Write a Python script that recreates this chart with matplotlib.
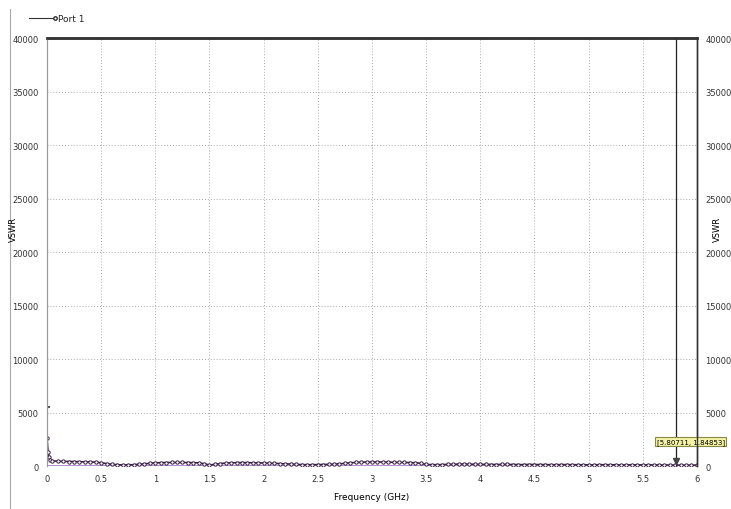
import matplotlib.pyplot as plt

# VSWR vs frequency
freq = [0.0, 0.01, 0.02, 0.03, 0.05, 0.1, 0.15, 0.2, 0.25, 0.3, 0.35, 0.4, 0.45,
        0.5, 0.55, 0.6, 0.65, 0.7, 0.75, 0.8, 0.85, 0.9, 0.95, 1.0, 1.05, 1.1,
        1.15, 1.2, 1.25, 1.3, 1.35, 1.4, 1.45, 1.5, 1.55, 1.6, 1.65, 1.7, 1.75,
        1.8, 1.85, 1.9, 1.95, 2.0, 2.05, 2.1, 2.15, 2.2, 2.25, 2.3, 2.35, 2.4,
        2.45, 2.5, 2.55, 2.6, 2.65, 2.7, 2.75, 2.8, 2.85, 2.9, 2.95, 3.0, 3.05,
        3.1, 3.15, 3.2, 3.25, 3.3, 3.35, 3.4, 3.45, 3.5, 3.55, 3.6, 3.65, 3.7,
        3.75, 3.8, 3.85, 3.9, 3.95, 4.0, 4.05, 4.1, 4.15, 4.2, 4.25, 4.3, 4.35,
        4.4, 4.45, 4.5, 4.55, 4.6, 4.65, 4.7, 4.75, 4.8, 4.85, 4.9, 4.95, 5.0,
        5.05, 5.1, 5.15, 5.2, 5.25, 5.3, 5.35, 5.4, 5.45, 5.5, 5.55, 5.6, 5.65,
        5.7, 5.75, 5.8, 5.85, 5.9, 5.95, 6.0]
vswr = [2600, 1300, 800, 600, 480, 440, 430, 420, 410, 400, 390, 380, 360,
        300, 220, 150, 120, 100, 110, 120, 160, 200, 250, 300, 310, 320,
        330, 330, 330, 320, 310, 300, 200, 100, 150, 220, 270, 300, 310,
        320, 310, 300, 290, 280, 260, 250, 220, 200, 180, 150, 130, 120,
        120, 130, 140, 150, 170, 200, 250, 300, 330, 350, 370, 380, 380,
        370, 360, 350, 340, 330, 320, 300, 250, 150, 120, 120, 130, 150,
        160, 180, 180, 170, 160, 150, 150, 140, 140, 150, 150, 140, 130,
        130, 140, 140, 130, 130, 120, 120, 130, 130, 120, 120, 110, 110,
        110, 120, 120, 110, 110, 100, 100, 110, 110, 100, 100, 100, 100,
        90, 90, 80, 80, 80, 80, 80]
edge_marks = [40000, 5500]
marker_freq = 5.80711
marker_vswr = 1.84853

xticks = [0, 0.5, 1, 1.5, 2, 2.5, 3, 3.5, 4, 4.5, 5, 5.5, 6]
xlabels = ["0", "0.5", "1", "1.5", "2", "2.5", "3", "3.5", "4", "4.5", "5", "5.5", "6"]
yticks = [0, 5000, 10000, 15000, 20000, 25000, 30000, 35000, 40000]

fig = plt.figure(figsize=(7.31, 5.10), dpi=100)
ax = fig.add_axes([0.0643, 0.0843, 0.889, 0.8392])

ax.plot(freq, [0] * len(freq), color="#b48ad0", lw=1.4)
ax.plot(freq, vswr, color="#3a1f45", lw=1.2, marker="o", ms=2.4,
        mfc="white", mec="#3a1f45", mew=0.7)
ax.plot([0] * len(edge_marks), edge_marks, ls="none", marker="_", ms=4,
        color="#555555", mew=1.5)

ax.axvline(marker_freq, color="#222222", lw=0.9)
ax.plot([marker_freq], [500], marker="v", ms=4, color="#444444")
ax.annotate("[%.5f, %.5f]" % (marker_freq, marker_vswr),
            xy=(marker_freq, 2300), fontsize=5, ha="left", va="center",
            bbox=dict(boxstyle="square,pad=0.2", fc="#f3f2a6", ec="#888844", lw=0.8),
            annotation_clip=False, xytext=(-14, 0), textcoords="offset points")

ax.set_xlim(0, 6)
ax.set_ylim(0, 40000)
ax.set_xticks(xticks)
ax.set_xticklabels(xlabels)
ax.set_yticks(yticks)
ax.tick_params(labelsize=6, length=0, pad=6, colors="#333333")
ax.grid(True, ls=(0, (1, 2)), color="#aaaaaa", lw=0.7)

ax2 = ax.twinx()
ax2.set_ylim(0, 40000)
ax2.set_yticks(yticks)
ax2.tick_params(labelsize=6, length=0, pad=6, colors="#333333")

for a in (ax, ax2):
    a.spines["left"].set_color("#999999")
    a.spines["bottom"].set_visible(False)
    a.spines["top"].set_color("#333333")
    a.spines["top"].set_linewidth(1.8)
    a.spines["right"].set_color("#333333")
    a.spines["right"].set_linewidth(1.0)

ax.set_xlabel("Frequency (GHz)", fontsize=6.5, labelpad=6)
fig.text(0.019, 0.55, "VSWR", fontsize=6, rotation=90, ha="center", va="center")
fig.text(0.982, 0.55, "VSWR", fontsize=6, rotation=90, ha="center", va="center")

# legend entry at the top left
fig.lines.append(plt.Line2D([0.04, 0.075], [0.962, 0.962], transform=fig.transFigure,
                            color="#333333", lw=0.8, marker="o", ms=2.5,
                            mfc="white", markevery=[1]))
fig.text(0.08, 0.962, "Port 1", fontsize=6.5, va="center", color="#222222")

# thin frame line at the far left of the window
fig.lines.append(plt.Line2D([0.014, 0.014], [0.0, 0.98], transform=fig.transFigure,
                            color="#aaaaaa", lw=0.8))

fig.savefig("out.png", dpi=100)
